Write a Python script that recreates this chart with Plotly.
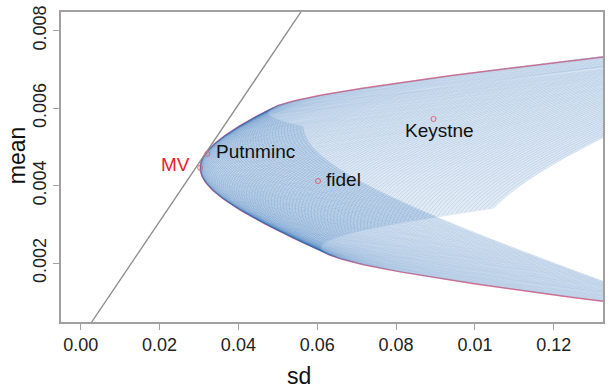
import numpy as np
import plotly.graph_objects as go

# ---------------- data ----------------
assets = ["Putnminc", "fidel", "Keystne"]
asset_mean = np.array([0.00482, 0.00412, 0.00572])
asset_sd = np.array([0.0321, 0.0602, 0.0895])
asset_corr = np.array([[1.0, 0.5909, 0.5735],
                       [0.5909, 1.0, 0.8681],
                       [0.5735, 0.8681, 1.0]])
risk_free = 0.00006
weight_bounds = [-1.0, 2.0]          # bounds on w1 (Putnminc) and w2 (fidel)
w_step_values = np.round(np.arange(-1.0, 2.0001, 0.02), 4)
w_fine_values = np.linspace(-1.0, 2.0, 601)

x_tickvals = [0.00, 0.02, 0.04, 0.06, 0.08, 0.10, 0.12]
x_ticktext = ["0.00", "0.02", "0.04", "0.06", "0.08", "0.01", "0.12"]
y_tickvals = [0.002, 0.004, 0.006, 0.008]
y_ticktext = ["0.002", "0.004", "0.006", "0.008"]
x_range = [-0.0050, 0.13249]
y_range = [0.000481, 0.008481]

# ---------------- portfolio computations ----------------
cov = asset_corr * np.outer(asset_sd, asset_sd)
inv = np.linalg.inv(cov)
ones = np.ones(3)


def port(w):
    m = w @ asset_mean
    s = np.sqrt(np.einsum('...i,ij,...j->...', w, cov, w))
    return s, m


# portfolios on the weight grid: curves of fixed w1 and curves of fixed w2
cx, cy = [], []
for wk in w_step_values:
    fixed = np.full_like(w_fine_values, wk)
    for w1, w2 in ((fixed, w_fine_values), (w_fine_values, fixed)):
        w = np.column_stack([w1, w2, 1 - w1 - w2])
        s, m = port(w)
        cx.extend(s.tolist() + [None])
        cy.extend(m.tolist() + [None])

# global minimum variance portfolio
w_mv = inv @ ones / (ones @ inv @ ones)
s_mv, m_mv = port(w_mv)

# tangency portfolio
ex = asset_mean - risk_free
w_t = inv @ ex / (ones @ inv @ ex)
s_t, m_t = port(w_t)
slope = (m_t - risk_free) / s_t

# constrained frontier (bounds on w2 active at the extremes)
A = ones @ inv @ ones
B = ones @ inv @ asset_mean
C = asset_mean @ inv @ asset_mean
D = A * C - B * B
targets = np.linspace(0.0, 0.0095, 1500)
fr_s, fr_m = [], []
for mt in targets:
    w = ((C - B * mt) * (inv @ ones) + (A * mt - B) * (inv @ asset_mean)) / D
    if w[1] < weight_bounds[0] or w[1] > weight_bounds[1]:
        w2 = min(max(w[1], weight_bounds[0]), weight_bounds[1])
        w1 = (mt - w2 * asset_mean[1] - (1 - w2) * asset_mean[2]) / (asset_mean[0] - asset_mean[2])
        w = np.array([w1, w2, 1 - w1 - w2])
    s, m = port(w)
    fr_s.append(float(s))
    fr_m.append(float(m))

# ---------------- figure ----------------
FONT = "Liberation Sans, Arial, Helvetica, sans-serif"
fig = go.Figure()

fig.add_trace(go.Scatter(x=fr_s, y=fr_m, mode="lines",
                         line=dict(color="rgba(242,110,135,0.95)", width=1.5),
                         hoverinfo="skip", showlegend=False))
fig.add_trace(go.Scatter(x=cx, y=cy, mode="lines",
                         line=dict(color="rgba(45,108,182,0.31)", width=0.5),
                         hoverinfo="skip", showlegend=False))

tx = np.array([x_range[0], x_range[1]])
fig.add_trace(go.Scatter(x=tx, y=risk_free + slope * tx, mode="lines",
                         line=dict(color="#8c8c8c", width=1.3),
                         hoverinfo="skip", showlegend=False))

pts_x = [float(s_mv)] + asset_sd.tolist()
pts_y = [float(m_mv)] + asset_mean.tolist()
fig.add_trace(go.Scatter(x=pts_x, y=pts_y, mode="markers",
                         marker=dict(symbol="circle-open", size=5,
                                     color="#e0607a", line=dict(width=1)),
                         hoverinfo="skip", showlegend=False))

# labels
fig.add_annotation(x=float(s_mv), y=float(m_mv), text="MV", showarrow=False,
                   xanchor="right", yanchor="middle", xshift=-8, yshift=3,
                   font=dict(family=FONT, size=19, color="#e8232d"))
label_cfg = {
    "Putnminc": dict(xanchor="left", yanchor="middle", xshift=7, yshift=2),
    "fidel": dict(xanchor="left", yanchor="middle", xshift=6, yshift=1),
    "Keystne": dict(xanchor="center", yanchor="middle", xshift=6, yshift=-12),
}
for name, s, m in zip(assets, asset_sd, asset_mean):
    fig.add_annotation(x=float(s), y=float(m), text=name, showarrow=False,
                       font=dict(family=FONT, size=19, color="#111111"),
                       **label_cfg[name])

L, R, T, Bm = 61, 11, 6, 69
W, H = 614, 391
pw, ph = W - L - R, H - T - Bm


def px2paper(px, py):
    return (px - L) / pw, (H - Bm - py) / ph


ax, ay = px2paper(299, 377)
fig.add_annotation(x=ax, y=ay, xref="paper", yref="paper", text="sd",
                   showarrow=False, xanchor="center", yanchor="middle",
                   font=dict(family=FONT, size=23, color="#111111"))
ax, ay = px2paper(17, 152)
fig.add_annotation(x=ax, y=ay, xref="paper", yref="paper", text="mean",
                   showarrow=False, xanchor="center", yanchor="middle",
                   textangle=-90,
                   font=dict(family=FONT, size=23, color="#111111"))

axis_common = dict(showgrid=False, zeroline=False, showline=True, mirror=True,
                   linecolor="#a0a0a0", linewidth=1.5, ticks="outside",
                   ticklen=6, tickcolor="#a0a0a0", tickwidth=1.2,
                   tickfont=dict(family=FONT, size=18, color="#222222"))
fig.update_xaxes(range=x_range, tickvals=x_tickvals, ticktext=x_ticktext,
                 **axis_common)
fig.update_yaxes(range=y_range, tickvals=y_tickvals, ticktext=y_ticktext,
                 tickangle=-90, **axis_common)

fig.update_layout(width=W, height=H, margin=dict(l=L, r=R, t=T, b=Bm),
                  paper_bgcolor="white", plot_bgcolor="white",
                  showlegend=False)

fig.write_html("out.html")
